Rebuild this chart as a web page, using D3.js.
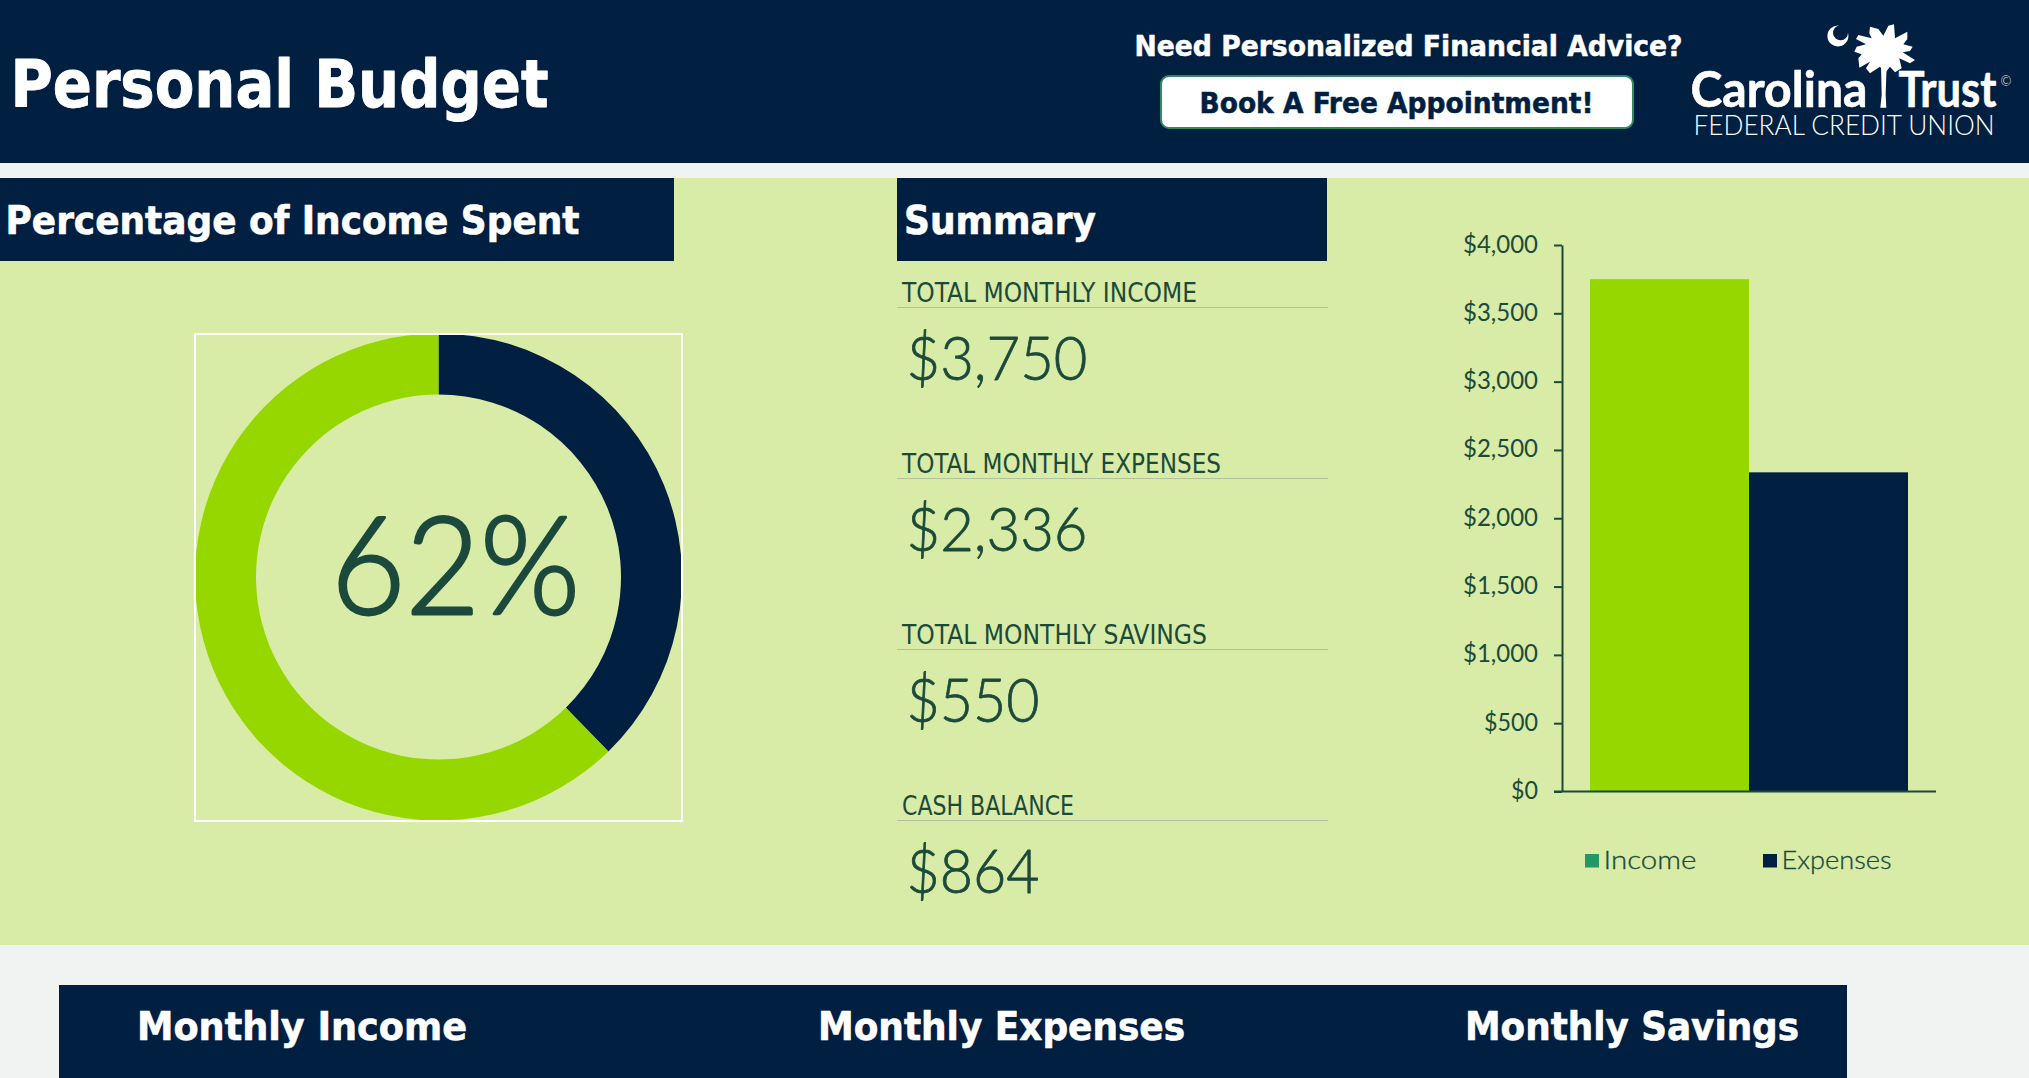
<!DOCTYPE html>
<html><head><meta charset="utf-8">
<script src="https://cdn.jsdelivr.net/npm/d3@7/dist/d3.min.js"></script>
<style>
html,body{margin:0;padding:0;background:#f1f2f2;overflow:hidden}
svg{display:block}
.head{font-family:"DejaVu Sans Condensed","DejaVu Sans",sans-serif;font-stretch:condensed;font-weight:700}
.label{font-family:"DejaVu Sans Condensed","DejaVu Sans",sans-serif;font-stretch:condensed;font-weight:400}
.geo{font-family:Lato,"Noto Sans",sans-serif;font-weight:300}
</style></head><body>
<svg id="c" width="2029" height="1078"></svg>
<script>
// ---- data ----
const barCategories = ["Income", "Expenses"];
const barValues = [3750, 2336];
const axisTicks = [0, 500, 1000, 1500, 2000, 2500, 3000, 3500, 4000];
const donutCategories = ["Remaining", "Spent"];
const donutValues = [1414, 2336];
const donutLabel = "62%";
const summaryLabels = ["TOTAL MONTHLY INCOME", "TOTAL MONTHLY EXPENSES", "TOTAL MONTHLY SAVINGS", "CASH BALANCE"];
const summaryValues = ["$3,750", "$2,336", "$550", "$864"];
const bottomHeads = ["Monthly Income", "Monthly Expenses", "Monthly Savings"];

// ---- styles ----
const NAVY = "#001f41", LIME = "#97d700", PANEL = "#d8eba7", INK = "#1c4a3a", LEGEND_GREEN = "#239a63";
const svg = d3.select("#c");
function txt(parent, s, x, y, size, cls, fill, w, anchor) {
  const t = parent.append("text").attr("x", x).attr("y", y).attr("class", cls)
    .attr("font-size", size).attr("fill", fill).text(s);
  if (anchor) t.attr("text-anchor", anchor);
  if (w) t.attr("textLength", w).attr("lengthAdjust", "spacingAndGlyphs");
  return t;
}
function heavy(t, fill, sw) { return t.attr("stroke", fill).attr("stroke-width", sw).attr("stroke-linejoin", "round"); }
function box(x, y, w, h, fill) { return svg.append("rect").attr("x", x).attr("y", y).attr("width", w).attr("height", h).attr("fill", fill); }

// ---- background bands ----
box(0, 0, 2029, 1078, "#f1f2f2");
box(0, 0, 2029, 163, NAVY);
box(0, 178, 2029, 767, PANEL);
box(59, 985, 1788, 93, NAVY);

// ---- header ----
heavy(txt(svg, "Personal Budget", 10.5, 106.5, 65, "head", "#fff", 538), "#fff", 0.8);
heavy(txt(svg, "Need Personalized Financial Advice?", 1134.5, 56, 29, "head", "#fff", 548), "#fff", 0.5);
svg.append("rect").attr("x", 1161).attr("y", 76).attr("width", 472).attr("height", 52).attr("rx", 8)
  .attr("fill", "#fff").attr("stroke", "#2f8a64").attr("stroke-width", 2);
heavy(txt(svg, "Book A Free Appointment!", 1199.5, 113, 29, "head", NAVY, 394), NAVY, 0.5);

// ---- logo ----
const logo = svg.append("g");
heavy(txt(logo, "Carolina", 1690.5, 107, 49, "geo", "#fff", 177).style("font-weight", 700), "#fff", 0.6);
heavy(txt(logo, "Trust", 1898.5, 107, 49, "geo", "#fff", 98).style("font-weight", 700), "#fff", 0.6);
txt(logo, "FEDERAL CREDIT UNION", 1693.5, 135, 27, "geo", "#fff", 301);
txt(logo, "©", 2006, 85.5, 13, "geo", "#fff", null, "middle");
const crownPts = [[150,35],[175,42],[190,62],[205,32],[222,28],[225,70],[262,50],[262,72],[250,88],[278,95],[270,108],[248,112],[285,135],[270,145],[238,130],[245,160],[225,172],[210,155],[195,175],[180,155],[150,175],[138,160],[150,140],[118,158],[115,130],[125,118],[103,110],[110,95],[138,88],[108,72],[115,60],[155,70],[148,55]];
const trunkPts = [[183,150],[200,150],[197,240],[199,278],[181,278],[185,240]];
const logoGeom = logo.append("g").attr("transform", "translate(1820,15) scale(0.3333)").attr("fill", "#fff");
logoGeom.append("path").attr("d", d3.line()(crownPts) + "Z");
logoGeom.append("path").attr("d", d3.line()(trunkPts) + "Z");
logo.append("path").attr("fill", "#fff")
  .attr("d", "M1839 25.5 A10.5 10.5 0 1 0 1848 33 A7.5 7.5 0 1 1 1839 25.5 Z");

// ---- section heads ----
box(0, 178, 674, 83, NAVY);
box(897, 178, 430, 83, NAVY);
heavy(txt(svg, "Percentage of Income Spent", 5.5, 234, 39.5, "head", "#fff", 574), "#fff", 0.6);
heavy(txt(svg, "Summary", 904, 234, 39.5, "head", "#fff", 192), "#fff", 0.6);

// ---- donut ----
const donutG = svg.append("g").attr("transform", "translate(438.5,577)");
svg.append("rect").attr("x", 195).attr("y", 334).attr("width", 487).attr("height", 487)
  .attr("fill", "none").attr("stroke", "#fff").attr("stroke-width", 2);
const pie = d3.pie().sort(null);
const arc = d3.arc().innerRadius(182.5).outerRadius(243.5);
const donutColor = d3.scaleOrdinal().domain(donutCategories).range([NAVY, LIME]);
donutG.selectAll("path").data(pie(donutValues)).join("path")
  .attr("d", arc).attr("fill", (d, i) => donutColor(donutCategories[i]));
heavy(txt(svg, donutLabel, 331, 614, 136, "geo", "#1b4a3c", 249), "#1b4a3c", 2.8);

// ---- summary ----
const sumStep = 171;
const labelW = [295, 319, 305, 172], valueW = [181, 181, 133, 133];
summaryLabels.forEach((s, i) => {
  const dy = sumStep * i;
  txt(svg, s, 902, 302 + dy, 26, "label", INK, labelW[i]);
  svg.append("line").attr("x1", 897).attr("x2", 1328).attr("y1", 307.5 + dy).attr("y2", 307.5 + dy)
    .attr("stroke", "#b4c0a2").attr("stroke-width", 1.2);
  heavy(txt(svg, summaryValues[i], 906.5, 379.5 + dy, 62, "geo", INK, valueW[i]), INK, 0.8);
});

// ---- bar chart ----
const y = d3.scaleLinear().domain([0, 4000]).range([791.5, 245]);
const x = d3.scaleBand().domain(barCategories).range([1590, 1908]).padding(0);
const barColor = d3.scaleOrdinal().domain(barCategories).range([LIME, NAVY]);
svg.selectAll("rect.bar").data(barCategories).join("rect").attr("class", "bar")
  .attr("x", d => x(d)).attr("width", x.bandwidth())
  .attr("y", (d, i) => y(barValues[i])).attr("height", (d, i) => y(0) - y(barValues[i]))
  .attr("fill", d => barColor(d));
const ax = svg.append("g").attr("transform", "translate(1562,0)")
  .call(d3.axisLeft(y).tickValues(axisTicks).tickSize(8).tickSizeOuter(0).tickPadding(16).tickFormat(d3.format("$,")));
ax.select(".domain").attr("stroke", INK).attr("stroke-width", 2);
ax.selectAll(".tick line").attr("stroke", INK).attr("stroke-width", 2);
ax.selectAll(".tick text").attr("class", "geo").attr("font-size", 25).attr("fill", INK).attr("dy", "0.28em")
  .style("font-family", "Lato,sans-serif").style("font-weight", 400)
  .attr("textLength", d => d >= 1000 ? 75 : d > 0 ? 54 : 27).attr("lengthAdjust", "spacingAndGlyphs");
svg.append("line").attr("x1", 1554).attr("x2", 1936).attr("y1", y(0)).attr("y2", y(0)).attr("stroke", INK).attr("stroke-width", 2);

// ---- legend ----
const legendX = [1585, 1763], legendTextX = [1603.5, 1781.5], legendW = [93, 110], legendFill = [LEGEND_GREEN, NAVY];
barCategories.forEach((c, i) => {
  box(legendX[i], 854, 14, 13.5, legendFill[i]);
  heavy(txt(svg, c, legendTextX[i], 869, 25, "geo", INK, legendW[i]), INK, 0.3);
});

// ---- bottom heads ----
const bottomX = [137, 818, 1465], bottomW = [330, 367, 334];
bottomHeads.forEach((s, i) => heavy(txt(svg, s, bottomX[i], 1039.5, 39.5, "head", "#fff", bottomW[i]), "#fff", 0.6));
</script>
</body></html>
